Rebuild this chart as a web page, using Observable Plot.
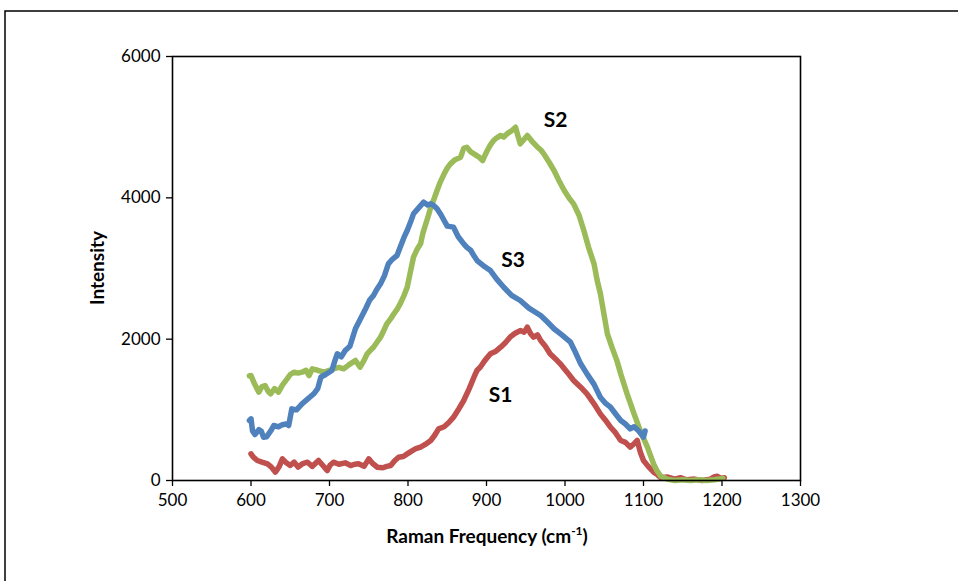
<!DOCTYPE html>
<html><head><meta charset="utf-8">
<script src="https://cdn.jsdelivr.net/npm/d3@7"></script>
<script src="https://cdn.jsdelivr.net/npm/@observablehq/plot@0.6"></script>
<style>
body{margin:0;background:#fff}
#chart{position:relative;width:958px;height:581px;overflow:hidden}
</style>
</head><body><div id="chart"></div>
<script>
const seriesNames = ["S1", "S2", "S3"];
const seriesColors = ["#C0504D", "#9BBB59", "#4F81BD"];

const s1Freq = [600,603,608,614,621,626,631,636,640,645,650,655,660,666,672,678,686,691,697,701,705,712,720,727,732,737,744,750,755,761,768,773,778,783,788,794,799,805,810,816,822,829,834,839,846,852,858,864,871,878,884,888,892,898,905,912,918,924,930,936,943,948,952,956,960,965,969,975,981,988,994,1003,1011,1020,1028,1037,1045,1051,1058,1064,1071,1077,1083,1088,1092,1096,1100,1106,1113,1118,1122,1130,1140,1147,1155,1165,1175,1185,1190,1194,1198,1203];
const s1Int  = [377,330,283,260,236,190,118,200,306,250,212,260,190,240,259,200,283,220,141,220,259,230,250,212,230,236,200,306,240,188,180,200,212,280,330,340,377,420,450,472,510,566,640,731,760,820,896,1000,1132,1300,1462,1560,1603,1700,1793,1830,1886,1950,2028,2080,2122,2100,2170,2080,2028,2060,1981,1900,1793,1720,1651,1530,1415,1320,1226,1085,943,860,754,680,566,540,472,520,566,400,283,200,118,80,40,50,20,40,10,20,0,20,50,60,30,40];

const s2Freq = [598,600,604,610,614,618,622,625,630,635,640,646,650,655,660,665,670,674,678,685,693,700,705,712,718,725,733,739,744,748,752,756,760,765,769,773,778,782,786,790,795,799,803,807,812,816,819,822,826,829,833,837,841,846,850,854,860,867,871,875,880,884,890,895,898,901,905,909,913,918,922,926,932,937,940,943,948,952,958,965,969,973,980,986,992,999,1005,1011,1018,1024,1030,1037,1041,1045,1050,1054,1060,1066,1071,1079,1088,1096,1105,1113,1117,1122,1130,1140,1150,1160,1170,1180,1190,1201];
const s2Int  = [1480,1486,1380,1250,1330,1344,1260,1227,1300,1250,1350,1439,1500,1533,1520,1533,1560,1486,1580,1560,1533,1560,1580,1600,1580,1640,1698,1604,1700,1793,1840,1886,1950,2028,2120,2217,2290,2359,2420,2500,2620,2735,2950,3160,3280,3349,3500,3608,3750,3867,3980,4103,4220,4340,4420,4481,4540,4575,4700,4716,4650,4622,4580,4528,4600,4670,4750,4811,4850,4882,4860,4905,4950,4999,4880,4764,4830,4882,4800,4716,4680,4622,4500,4387,4250,4103,4000,3915,3750,3538,3300,3066,2830,2650,2330,2075,1880,1700,1509,1230,943,700,472,230,141,60,20,0,10,0,10,0,10,30];

const s3Freq = [598,600,602,605,610,613,616,620,625,629,635,640,645,648,652,658,665,672,680,685,689,695,703,707,710,715,720,726,733,740,746,751,756,760,765,770,775,780,786,790,795,799,803,807,813,820,825,829,833,837,842,846,850,858,864,871,875,880,884,888,896,905,913,922,932,943,954,969,977,986,996,1007,1013,1020,1028,1037,1045,1051,1058,1066,1071,1077,1083,1088,1094,1100,1102];
const s3Int  = [850,873,700,650,720,700,613,620,700,778,760,790,800,778,1014,1000,1085,1150,1227,1300,1462,1500,1557,1700,1793,1750,1840,1900,2147,2300,2430,2550,2618,2700,2783,2900,3066,3130,3184,3300,3443,3538,3650,3774,3850,3939,3900,3915,3890,3845,3760,3679,3600,3585,3450,3349,3300,3255,3180,3113,3040,2971,2850,2735,2620,2547,2440,2335,2250,2147,2060,1957,1820,1651,1509,1360,1179,1100,1037,920,849,800,731,760,700,613,700];

const xTicks = [500, 600, 700, 800, 900, 1000, 1100, 1200, 1300];
const yTicks = [0, 2000, 4000, 6000];

const labelText = ["S2", "S3", "S1"];
const labelFreq = [988, 934, 918];
const labelInt  = [5094, 3113, 1203];

const freqs = [s1Freq, s2Freq, s3Freq];
const ints = [s1Int, s2Int, s3Int];
const rows = seriesNames.flatMap((name, i) =>
  freqs[i].map((f, j) => ({series: name, freq: f, intensity: ints[i][j]})));
const labels = labelText.map((t, i) => ({text: t, freq: labelFreq[i], intensity: labelInt[i]}));

const fmt = d3.format("d");
const chart = Plot.plot({
  width: 958, height: 581,
  marginLeft: 172, marginRight: 158, marginTop: 56, marginBottom: 101,
  style: {fontFamily: "Lato, 'Open Sans', sans-serif", fontSize: "17px", color: "#000", background: "#fff"},
  x: {domain: [500, 1300], label: null},
  y: {domain: [0, 6000], label: null},
  color: {domain: seriesNames, range: seriesColors},
  marks: [
    Plot.line(rows, {x: "freq", y: "intensity", z: "series", stroke: "series", strokeWidth: 5.5, strokeLinejoin: "round", strokeLinecap: "round"}),
    Plot.frame({stroke: "#000", strokeWidth: 1.6}),
    Plot.axisX({ticks: xTicks, tickSize: 6, tickPadding: 7, tickFormat: fmt, fontSize: 17, stroke: "#000", strokeWidth: 1.3}),
    Plot.axisY({ticks: yTicks, tickSize: 6, tickPadding: 6, tickFormat: fmt, fontSize: 17, stroke: "#000", strokeWidth: 1.3}),
    Plot.text(labels, {x: "freq", y: "intensity", text: "text", fontWeight: "bold", fontSize: 21, fill: "#000"})
  ]
});
document.getElementById("chart").appendChild(chart);

const svg = d3.select(chart);
// outer chart-area border (left and top edges visible)
svg.append("path").attr("d", "M5,581 V11 H958").attr("fill", "none").attr("stroke", "#000").attr("stroke-width", 1.5);
// x-axis title with superscript
const xt = svg.append("text").attr("x", 487).attr("y", 543).attr("text-anchor", "middle")
  .attr("font-family", "Lato, 'Open Sans', sans-serif").attr("font-weight", "bold").attr("font-size", 19).attr("fill", "#000");
xt.append("tspan").text("Raman Frequency (cm");
xt.append("tspan").attr("dy", -8).attr("font-size", 12).text("-1");
xt.append("tspan").attr("dy", 8).text(")");
// y-axis title
svg.append("text").attr("transform", "translate(104,268) rotate(-90)").attr("text-anchor", "middle")
  .attr("font-family", "Lato, 'Open Sans', sans-serif").attr("font-weight", "bold").attr("font-size", 19).attr("fill", "#000")
  .text("Intensity");
</script>
</body></html>
